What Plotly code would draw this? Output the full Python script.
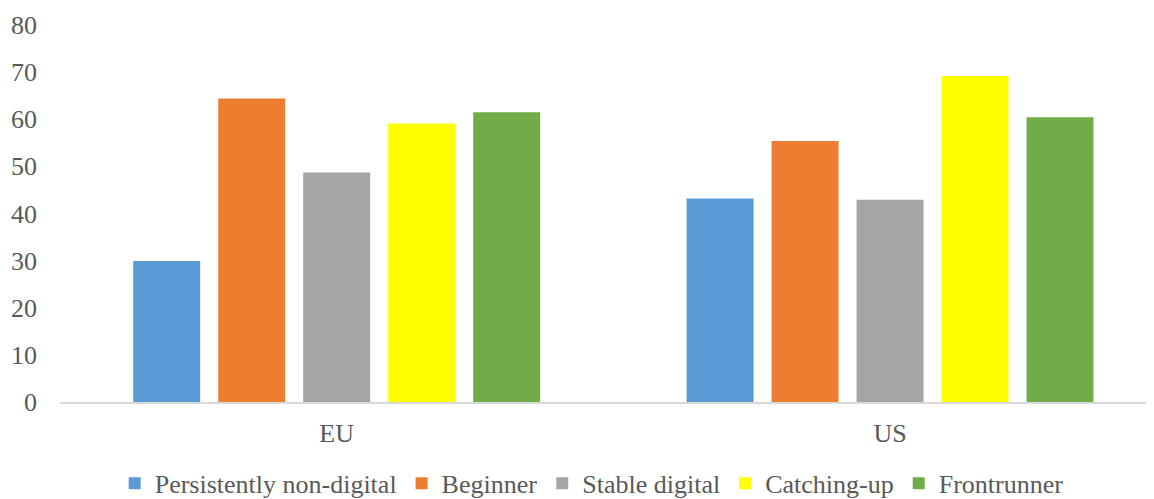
import plotly.graph_objects as go

categories = ["EU", "US"]
series_names = ["Persistently non-digital", "Beginner", "Stable digital", "Catching-up", "Frontrunner"]
persistently_non_digital = [29.9, 43.2]
beginner = [64.4, 55.4]
stable_digital = [48.7, 42.9]
catching_up = [59.1, 69.2]
frontrunner = [61.5, 60.4]
y_ticks = [0, 10, 20, 30, 40, 50, 60, 70, 80]

colors = ["#5b9bd5", "#ed7d31", "#a5a5a5", "#ffff00", "#70ad47"]
values = [persistently_non_digital, beginner, stable_digital, catching_up, frontrunner]

FONT = "Liberation Serif, Times New Roman, DejaVu Serif, serif"
FS = 26

fig = go.Figure()
for name, vals, col in zip(series_names, values, colors):
    fig.add_trace(go.Bar(x=categories, y=vals, name=name, marker=dict(color=col, line=dict(width=0))))

fig.update_layout(
    width=1146, height=491,
    paper_bgcolor="white", plot_bgcolor="white",
    margin=dict(l=52, r=0, t=17, b=97, autoexpand=False),
    barmode="group", bargap=0.232, bargroupgap=0.212,
    font=dict(family=FONT, size=FS, color="#595959"),
    legend=dict(orientation="h", x=0.486, xanchor="center", yref="container", y=0.032, yanchor="middle",
                font=dict(family=FONT, size=FS, color="#595959"),
                itemwidth=30, tracegroupgap=0),
    showlegend=True,
)
fig.update_xaxes(type="category", range=[-0.5, 1.477], showline=True, linecolor="#d9d9d9", linewidth=2,
                 showgrid=False, ticks="", automargin=False, ticklabelstandoff=7,
                 tickfont=dict(family=FONT, size=FS, color="#595959"))
fig.update_yaxes(range=[0, 80], tickvals=y_ticks, showgrid=False, zeroline=False, showline=False,
                 ticks="", ticklabelstandoff=22, automargin=False,
                 tickfont=dict(family=FONT, size=FS, color="#595959"))

fig.write_html("out.html")
